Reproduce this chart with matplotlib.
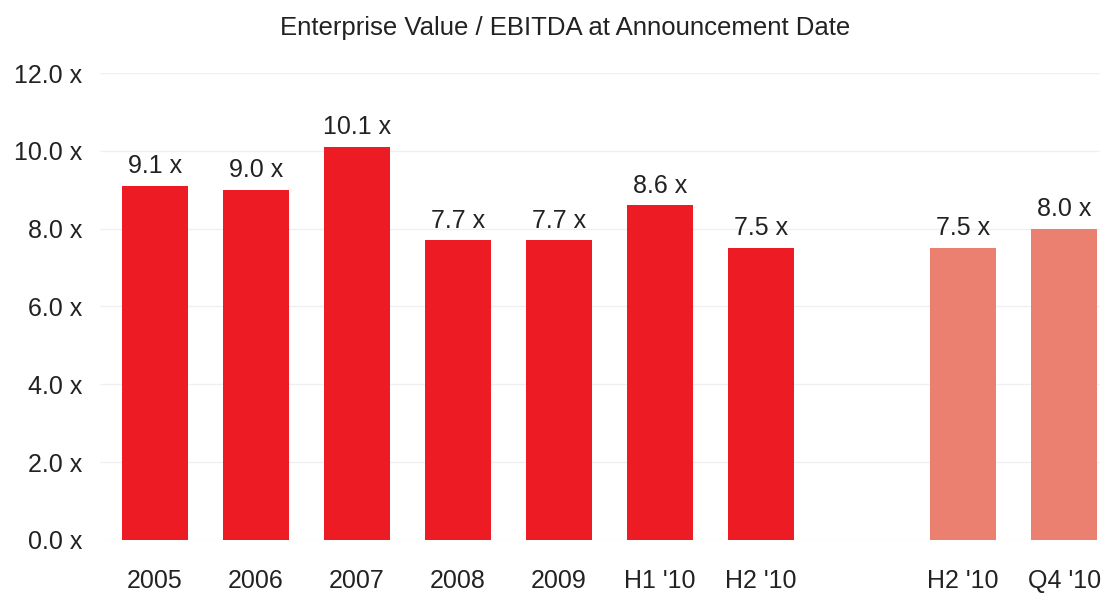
import matplotlib.pyplot as plt
from matplotlib import rcParams

rcParams['font.family'] = 'Liberation Sans'
rcParams['text.color'] = '#222222'

# EV / EBITDA multiples
labels = ['2005', '2006', '2007', '2008', '2009', "H1 '10", "H2 '10", "H2 '10", "Q4 '10"]
multiples = [9.1, 9.0, 10.1, 7.7, 7.7, 8.6, 7.5, 7.5, 8.0]
positions = [0, 1, 2, 3, 4, 5, 6, 8, 9]
colors = ['#ED1C24'] * 7 + ['#EC8070'] * 2
y_ticks = [0, 2, 4, 6, 8, 10, 12]

fig = plt.figure(figsize=(11.03, 5.97), dpi=100)
ax = fig.add_axes([0.0907, 0.0955, 0.9066, 0.7822])

ax.bar(positions, multiples, width=0.66, color=colors, zorder=2)

for x, v in zip(positions, multiples):
    ax.text(x, v + 0.2, f'{v:.1f} x', ha='center', va='bottom',
            fontsize=18, color='#222222')

ax.set_ylim(0, 12)
ax.set_xlim(-0.545, 9.355)
ax.set_yticks(y_ticks)
ax.set_yticklabels([f'{t:.1f} x' for t in y_ticks])
ax.set_xticks(positions)
ax.set_xticklabels(labels)

ax.tick_params(axis='y', length=0, pad=13, labelsize=18, labelcolor='#222222')
ax.tick_params(axis='x', length=0, pad=21, labelsize=18, labelcolor='#222222')

ax.grid(axis='y', color='#F0F0F0', linewidth=1.0, zorder=0)
for spine in ax.spines.values():
    spine.set_visible(False)

fig.text(0.512, 0.953, 'Enterprise Value / EBITDA at Announcement Date',
         ha='center', va='center', fontsize=18.5)

fig.savefig('out.png', dpi=100)
